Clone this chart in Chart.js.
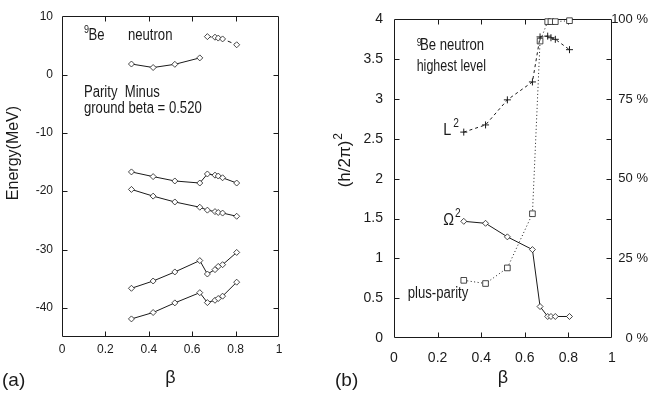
<!DOCTYPE html>
<html><head><meta charset="utf-8">
<script src="https://cdn.jsdelivr.net/npm/chart.js@4"></script>
<style>
html,body{margin:0;padding:0;background:#fff;}
#wrap{position:relative;width:651px;height:396px;overflow:hidden;background:#fff;}
#c1{position:absolute;left:0;top:0;}
#c2{position:absolute;left:330px;top:0;}
</style></head><body>
<div id="wrap"><canvas id="c1" width="330" height="396"></canvas><canvas id="c2" width="321" height="396"></canvas></div>
<script>
// ---------- data ----------
const beta      = [0.32, 0.42, 0.52, 0.635, 0.67, 0.705, 0.72, 0.74, 0.805];
const betaEarly = [0.32, 0.42, 0.52, 0.635];
const betaLate  = [0.67, 0.705, 0.72, 0.74, 0.805];

// panel (a): 9Be neutron single-particle energies, parity minus (MeV)
const eLevelTop = [6.5, 6.4, 6.25, 6.1, 5.1];           // dashed, beta >= 0.67
const eLevel2   = [1.8, 1.2, 1.75, 2.85];                // beta <= 0.635
const eLevel3   = [-16.7, -17.5, -18.25, -18.6, -17.05, -17.25, -17.4, -17.7, -18.6];
const eLevel4   = [-19.7, -20.85, -21.85, -22.75, -23.25, -23.5, -23.65, -23.75, -24.3];
const eLevel5   = [-36.65, -35.4, -33.85, -31.9, -34.2, -33.45, -32.9, -32.6, -30.5];
const eLevel6   = [-41.9, -40.8, -39.15, -37.4, -39.1, -38.7, -38.4, -38.0, -35.6];

// panel (b): highest level
const L2values     = [2.585, 2.675, 2.99, 3.215, 3.78, 3.79, 3.77, 3.75, 3.62];
const Omega2values = [1.465, 1.44, 1.27, 1.11, 0.395, 0.27, 0.27, 0.27, 0.27];
const plusParityPct = [18.1, 17.1, 22.0, 39.0, 93.2, 99.3, 99.3, 99.3, 99.6];

// tick labels
const xTicks  = [0, 0.2, 0.4, 0.6, 0.8, 1];
const yTicksA = [-40, -30, -20, -10, 0, 10];
const yTicksB = [0, 0.5, 1, 1.5, 2, 2.5, 3, 3.5, 4];
const pctTicks = [0, 25, 50, 75, 100];

// ---------- styling ----------
const INK = '#1a1a1a';
const REG = "'Liberation Sans',Arial,sans-serif";
const NARROW_X = 0.82;   // horizontal squeeze to imitate a narrow Helvetica

function pts(xs, ys){ return xs.map((x,i)=>({x:x, y:ys[i]})); }
function series(label, xs, ys, extra){
  return Object.assign({
    label: label, data: pts(xs, ys), borderColor: INK, borderWidth: 1,
    pointStyle: 'rectRot', pointRadius: 3, pointHoverRadius: 3,
    pointBackgroundColor: '#fff', pointBorderColor: INK, pointBorderWidth: 0.8,
    fill: false, tension: 0, clip: false
  }, extra || {});
}
function fmt(v){ return String(+v.toFixed(2)); }

function txt(ctx, s, x, y, font, align, base, rot, sx){
  ctx.save(); ctx.translate(x, y); if (rot) ctx.rotate(rot); if (sx) ctx.scale(sx, 1);
  ctx.font = font; ctx.textAlign = align || 'left'; ctx.textBaseline = base || 'alphabetic';
  ctx.fillStyle = INK; ctx.fillText(s, 0, 0); ctx.restore();
}
function width(ctx, s, font, sx){ ctx.save(); ctx.font = font; const w = ctx.measureText(s).width * (sx||1); ctx.restore(); return w; }
function supTxt(ctx, s, sup, x, y, font, supFont, rise, gap, sx){
  const w = width(ctx, s, font, sx);
  txt(ctx, s, x, y, font, 'left', 'alphabetic', 0, sx);
  txt(ctx, sup, x + w + (gap||1), y - rise, supFont, 'left', 'alphabetic', 0, sx);
}

// frame + inward ticks drawn from the chart's own scales
const framePlugin = {
  id: 'frame',
  beforeDatasetsDraw(chart){
    const {ctx, chartArea: a, scales} = chart;
    const L = 5;
    const l = Math.round(a.left)+0.5, r = Math.round(a.right)-0.5, t = Math.round(a.top)+0.5, b = Math.round(a.bottom)-0.5;
    ctx.save(); ctx.strokeStyle = INK; ctx.lineWidth = 1;
    ctx.beginPath(); ctx.rect(l, t, r-l, b-t);
    scales.x.ticks.forEach(tk => {
      const p = Math.round(scales.x.getPixelForValue(tk.value))+0.5;
      if (p <= l+1 || p >= r-1) return;
      ctx.moveTo(p, b); ctx.lineTo(p, b-L); ctx.moveTo(p, t); ctx.lineTo(p, t+L);
    });
    scales.y.ticks.forEach(tk => {
      const p = Math.round(scales.y.getPixelForValue(tk.value))+0.5;
      if (p <= t+1 || p >= b-1) return;
      ctx.moveTo(l, p); ctx.lineTo(l+L, p); ctx.moveTo(r, p); ctx.lineTo(r-L, p);
    });
    ctx.stroke(); ctx.restore();
  }
};

const notesA = {
  id: 'notesA',
  afterDraw(chart){
    const {ctx, scales:{x, y}} = chart;
    const f16 = '16px ' + REG, N = NARROW_X;
    txt(ctx, '9', x.getPixelForValue(0.101), y.getPixelForValue(7.2), '11px ' + REG, 'left', 'alphabetic', 0, N);
    txt(ctx, 'Be', x.getPixelForValue(0.122), y.getPixelForValue(6.0), f16, 'left', 'alphabetic', 0, N);
    txt(ctx, 'neutron', x.getPixelForValue(0.304), y.getPixelForValue(6.0), f16, 'left', 'alphabetic', 0, N);
    txt(ctx, 'Parity  Minus', x.getPixelForValue(0.101), y.getPixelForValue(-3.92), f16, 'left', 'alphabetic', 0, N);
    txt(ctx, 'ground beta = 0.520', x.getPixelForValue(0.101), y.getPixelForValue(-6.64), f16, 'left', 'alphabetic', 0, N);
    txt(ctx, 'Energy(MeV)', 14, 153, '16px ' + REG, 'center', 'middle', -Math.PI/2);
    txt(ctx, '(a)', 2, 381, '19px ' + REG, 'left', 'middle');
  }
};

const notesB = {
  id: 'notesB',
  afterDraw(chart){
    const {ctx, scales:{x, y}} = chart;
    const f16 = '16px ' + REG, N = NARROW_X;
    txt(ctx, '9', x.getPixelForValue(0.104), y.getPixelForValue(3.66), '11px ' + REG, 'left', 'alphabetic', 0, N);
    txt(ctx, 'Be neutron', x.getPixelForValue(0.119), y.getPixelForValue(3.616), f16, 'left', 'alphabetic', 0, N);
    txt(ctx, 'highest level', x.getPixelForValue(0.104), y.getPixelForValue(3.35), f16, 'left', 'alphabetic', 0, 0.78);
    supTxt(ctx, 'L', '2', x.getPixelForValue(0.226), y.getPixelForValue(2.544), '17px ' + REG, '12px ' + REG, 8, 2, 0.85);
    supTxt(ctx, '\u03A9', '2', x.getPixelForValue(0.226), y.getPixelForValue(1.415), '17px ' + REG, '12px ' + REG, 8, 1, 0.85);
    txt(ctx, 'plus-parity', x.getPixelForValue(0.063), y.getPixelForValue(0.5), f16, 'left', 'alphabetic', 0, N);
    // rotated y title (h/2pi)^2
    const w = width(ctx, '(h/2\u03C0)', '17px ' + REG);
    txt(ctx, '(h/2\u03C0)', 15, 164, '17px ' + REG, 'center', 'middle', -Math.PI/2);
    txt(ctx, '2', 9, 164 - w/2 - 1, '12px ' + REG, 'left', 'middle', -Math.PI/2);
    txt(ctx, '(b)', 5, 381, '19px ' + REG, 'left', 'middle');
  }
};

Chart.defaults.color = INK;
Chart.defaults.animation = false;

function xScale(fontSize, pad, height, titleSize, titlePad){
  return {
    type: 'linear', min: 0, max: 1,
    afterBuildTicks: s => { s.ticks = xTicks.map(v => ({value: v})); },
    afterFit: s => { s.height = height; },
    grid: {display: false, drawTicks: false}, border: {display: false},
    ticks: {padding: pad, font: {family: REG, size: fontSize}, color: INK, callback: v => fmt(v)},
    title: {display: true, text: '\u03B2', font: {family: REG, size: titleSize}, color: INK, padding: {top: 0, bottom: titlePad}}
  };
}

// ---------- panel (a) ----------
new Chart(document.getElementById('c1'), {
  type: 'line',
  data: { datasets: [
    series('level top', betaLate, eLevelTop, {borderDash: [4, 3]}),
    series('level 2', betaEarly, eLevel2),
    series('level 3', beta, eLevel3),
    series('level 4', beta, eLevel4),
    series('level 5', beta, eLevel5),
    series('level 6', beta, eLevel6)
  ]},
  options: {
    responsive: false, devicePixelRatio: 1,
    layout: {padding: {top: 12, right: 51, bottom: 0, left: 0}},
    plugins: {legend: {display: false}, tooltip: {enabled: false}},
    scales: {
      x: xScale(12, 5, 59, 18, 7),
      y: {
        type: 'linear', min: -45, max: 10,
        afterBuildTicks: s => { s.ticks = yTicksA.map(v => ({value: v})); },
        afterFit: s => { s.width = 62; },
        grid: {display: false, drawTicks: false}, border: {display: false},
        ticks: {padding: 9, font: {family: REG, size: 12}, color: INK}
      }
    }
  },
  plugins: [framePlugin, notesA]
});

// ---------- panel (b) ----------
new Chart(document.getElementById('c2'), {
  type: 'line',
  data: { datasets: [
    series('L2', beta, L2values, {borderDash: [3, 3], pointStyle: 'cross', pointRadius: 3.5, pointBorderWidth: 1}),
    series('Omega2', beta, Omega2values),
    series('plus-parity', beta, plusParityPct, {yAxisID: 'y2', borderDash: [1, 2.5], pointStyle: 'rect', pointRadius: 4})
  ]},
  options: {
    responsive: false, devicePixelRatio: 1,
    layout: {padding: {top: 12, right: 3, bottom: 0, left: 0}},
    plugins: {legend: {display: false}, tooltip: {enabled: false}},
    scales: {
      x: xScale(14, 12, 58, 18, 7),
      y: {
        type: 'linear', min: 0, max: 4, position: 'left',
        afterBuildTicks: s => { s.ticks = yTicksB.map(v => ({value: v})); },
        afterFit: s => { s.width = 64; },
        grid: {display: false, drawTicks: false}, border: {display: false},
        ticks: {padding: 11, font: {family: REG, size: 14}, color: INK, callback: v => fmt(v)}
      },
      y2: {
        type: 'linear', min: 0, max: 100, position: 'right',
        afterBuildTicks: s => { s.ticks = pctTicks.map(v => ({value: v})); },
        afterFit: s => { s.width = 36; },
        grid: {display: false, drawTicks: false}, border: {display: false},
        ticks: {padding: 0, crossAlign: 'far', font: {family: REG, size: 13}, color: INK, callback: v => v + ' %'}
      }
    }
  },
  plugins: [framePlugin, notesB]
});
</script>
</body></html>
